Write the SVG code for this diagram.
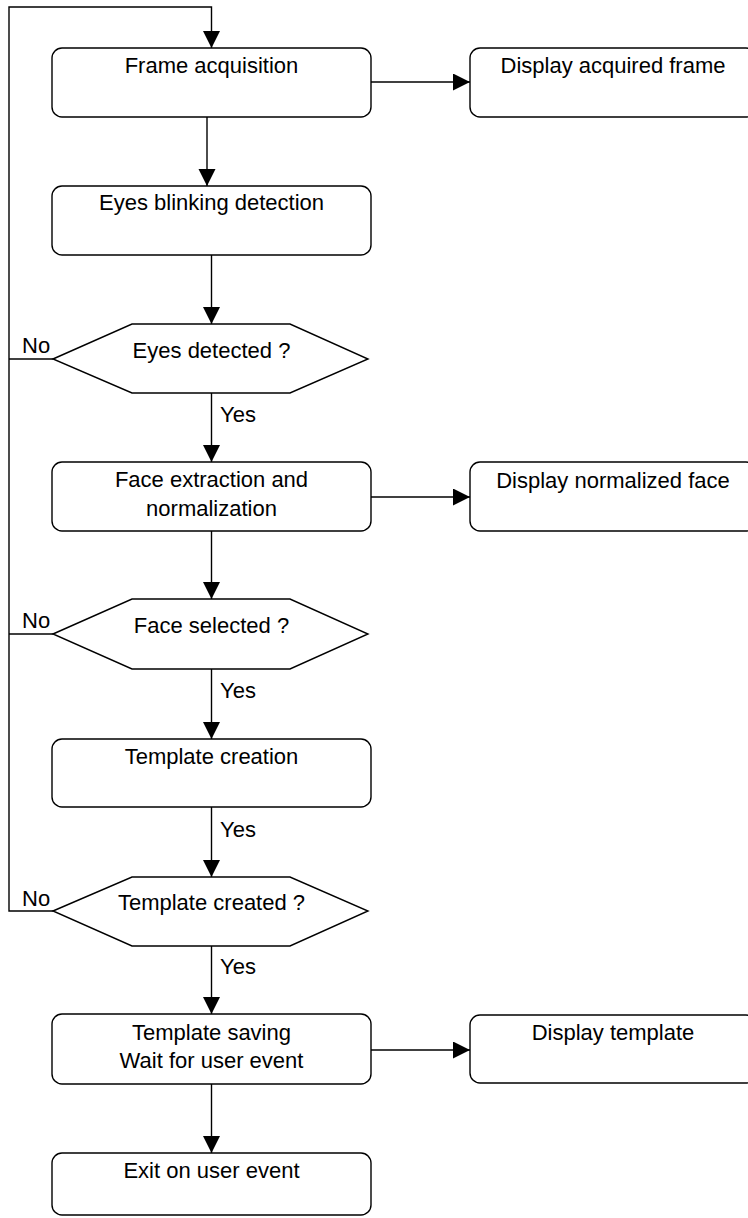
<svg xmlns="http://www.w3.org/2000/svg" width="748" height="1218" viewBox="0 0 748 1218">
<style>
.box{fill:#fff;stroke:#000;stroke-width:1.4}
.hex{fill:#fff;stroke:#000;stroke-width:1.4}
.ln{fill:none;stroke:#000;stroke-width:1.4}
text{font-family:"Liberation Sans",Arial,sans-serif;font-size:22px;fill:#000}
.c{text-anchor:middle}
</style>
<defs>
<marker id="ah" markerUnits="userSpaceOnUse" markerWidth="18" markerHeight="18" refX="17" refY="8.5" orient="auto" viewBox="0 0 18 18">
<path d="M0,0 L17,8.5 L0,17 z" fill="#000"/>
</marker>
</defs>
<rect width="748" height="1218" fill="#fff"/>
<g id="connectors">
<path class="ln" d="M53,911 H9 V7 H211.5 V48" marker-end="url(#ah)"/>
<path class="ln" d="M53,359 H9"/>
<path class="ln" d="M53,634 H9"/>
<path class="ln" d="M207,117 V186" marker-end="url(#ah)"/>
<path class="ln" d="M211.5,255 V324" marker-end="url(#ah)"/>
<path class="ln" d="M211.5,393 V462" marker-end="url(#ah)"/>
<path class="ln" d="M211.5,531 V599" marker-end="url(#ah)"/>
<path class="ln" d="M211.5,669 V739" marker-end="url(#ah)"/>
<path class="ln" d="M211.5,807 V877" marker-end="url(#ah)"/>
<path class="ln" d="M211.5,946 V1014" marker-end="url(#ah)"/>
<path class="ln" d="M211.5,1084 V1153" marker-end="url(#ah)"/>
<path class="ln" d="M371,82 H470" marker-end="url(#ah)"/>
<path class="ln" d="M371,497 H470" marker-end="url(#ah)"/>
<path class="ln" d="M371,1050 H470" marker-end="url(#ah)"/>
<text x="22" y="353">No</text>
<text x="22" y="628">No</text>
<text x="22" y="906">No</text>
<text x="220" y="422">Yes</text>
<text x="220" y="698">Yes</text>
<text x="220" y="837">Yes</text>
<text x="220" y="974">Yes</text>
</g>
<g id="frame-acquisition">
<rect class="box" x="52" y="48" width="319" height="69" rx="10"/>
<text class="c" x="211.5" y="73">Frame acquisition</text>
</g>
<g id="display-acquired-frame">
<rect class="box" x="470" y="48" width="286" height="69" rx="10"/>
<text class="c" x="613" y="73">Display acquired frame</text>
</g>
<g id="eyes-blinking-detection">
<rect class="box" x="52" y="186" width="319" height="69" rx="10"/>
<text class="c" x="211.5" y="210">Eyes blinking detection</text>
</g>
<g id="eyes-detected">
<polygon class="hex" points="53,359 132,324 290,324 368,359 290,393 132,393"/>
<text class="c" x="211.5" y="358">Eyes detected ?</text>
</g>
<g id="face-extraction">
<rect class="box" x="52" y="462" width="319" height="69" rx="10"/>
<text class="c" x="211.5" y="487">Face extraction and</text>
<text class="c" x="211.5" y="516">normalization</text>
</g>
<g id="display-normalized-face">
<rect class="box" x="470" y="462" width="286" height="69" rx="10"/>
<text class="c" x="613" y="488">Display normalized face</text>
</g>
<g id="face-selected">
<polygon class="hex" points="53,634 132,599 290,599 368,634 290,669 132,669"/>
<text class="c" x="211.5" y="633">Face selected ?</text>
</g>
<g id="template-creation">
<rect class="box" x="52" y="739" width="319" height="68" rx="10"/>
<text class="c" x="211.5" y="764">Template creation</text>
</g>
<g id="template-created">
<polygon class="hex" points="53,911 132,877 290,877 368,911 290,946 132,946"/>
<text class="c" x="211.5" y="910">Template created ?</text>
</g>
<g id="template-saving">
<rect class="box" x="52" y="1014" width="319" height="70" rx="10"/>
<text class="c" x="211.5" y="1040">Template saving</text>
<text class="c" x="211.5" y="1068">Wait for user event</text>
</g>
<g id="display-template">
<rect class="box" x="470" y="1015" width="286" height="68" rx="10"/>
<text class="c" x="613" y="1040">Display template</text>
</g>
<g id="exit-on-user-event">
<rect class="box" x="52" y="1153" width="319" height="62" rx="10"/>
<text class="c" x="211.5" y="1178">Exit on user event</text>
</g>
</svg>
